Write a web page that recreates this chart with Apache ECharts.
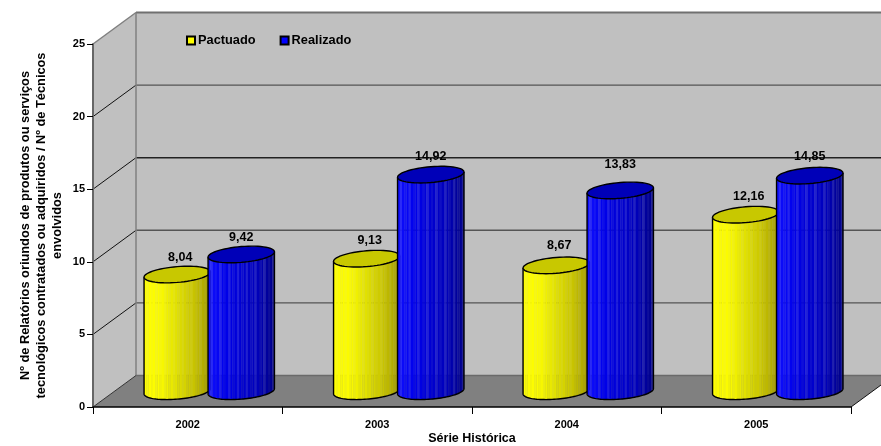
<!DOCTYPE html>
<html><head><meta charset="utf-8">
<style>html,body{margin:0;padding:0;background:#fff}#c{width:881px;height:446px}</style>
<script src="https://cdn.jsdelivr.net/npm/echarts@6/dist/echarts.min.js"></script>
</head><body><div id="c"></div>
<script>
const categories = ['2002', '2003', '2004', '2005'];
const pactuado = [8.04, 9.13, 8.67, 12.16];
const realizado = [9.42, 14.92, 13.83, 14.85];
const yTicks = [0, 5, 10, 15, 20, 25];
const yTitle = 'Nº de Relatórios oriundos de produtos ou serviços\ntecnológicos contratados ou adquiridos / Nº de Técnicos\nenvolvidos';
const xTitle = 'Série Histórica';

const FONT = '"Liberation Sans", Arial, sans-serif';
const DEPTH_X = 43, DEPTH_Y = 31.5;
const RX = 33.2, RY = 7.9, TILT = 0.08, STRIPS = 30, PAIR = 32;

function mix(a, b, t) { return a.map((v, i) => Math.round(v + (b[i] - v) * t)); }
function ramp(stops, t) {
  const n = stops.length - 1, k = Math.min(n - 1, Math.floor(t * n));
  return mix(stops[k], stops[k + 1], t * n - k);
}
const YELLOW = { stops: [[255,255,0],[250,250,0],[224,224,0],[200,196,0],[160,152,0]], top: '#c8c800', nudge: [2, 0, -1, 0] };
const BLUE = { stops: [[16,16,255],[0,0,235],[0,0,210],[0,0,185],[0,0,135]], top: '#0000b8', nudge: [2, 0, -7, -1] };

function arc(cx, cy, from, to, n) {
  const pts = [];
  for (let i = 0; i <= n; i++) {
    const a = from + (to - from) * i / n;
    pts.push([cx + RX * Math.cos(a), cy + RY * Math.sin(a) - RX * Math.cos(a) * TILT]);
  }
  return pts;
}
function lowerY(cx, cy, x) {
  const c = Math.max(-1, Math.min(1, (x - cx) / RX));
  return cy + RY * Math.sqrt(1 - c * c) - RX * c * TILT;
}
function upperMid(cx, cy, x) { return cy - (x - cx) * TILT; }

function cylinder(palette, side) {
  return function (params, api) {
    const top = api.coord([api.value(0), api.value(1)]);
    const base = api.coord([api.value(0), 0]);
    const cx = top[0] + DEPTH_X / 2 + side * PAIR;
    const cy = base[1] - DEPTH_Y / 2;
    const ty = top[1] - DEPTH_Y / 2;
    const children = [];
    const w = 2 * RX / STRIPS;
    for (let i = 0; i < STRIPS; i++) {
      const x0 = cx - RX + i * w, x1 = x0 + w;
      const rgb = ramp(palette.stops, (i + 0.5) / STRIPS);
      const c = i % 4 === 1 ? mix(rgb, [255, 255, 255], palette === BLUE ? 0.08 : 0.03) : rgb;
      children.push({
        type: 'polygon',
        shape: { points: [
          [x0, upperMid(cx, ty, x0)], [x1 + 0.3, upperMid(cx, ty, x1)],
          [x1 + 0.3, lowerY(cx, cy, x1)], [x0, lowerY(cx, cy, x0)]
        ] },
        style: { fill: 'rgb(' + c.join(',') + ')', opacity: i % 2 ? 0.93 : 1 }
      });
    }
    const outline = [[cx - RX, ty + RX * TILT]].concat(arc(cx, cy, Math.PI, 0, 50), [[cx + RX, ty - RX * TILT]]);
    children.push({ type: 'polyline', shape: { points: outline }, style: { stroke: '#000', lineWidth: 1.4, fill: null } });
    children.push({
      type: 'polygon', shape: { points: arc(cx, ty, 0, 2 * Math.PI, 60) },
      style: { fill: palette.top, stroke: '#000', lineWidth: 1.4 }
    });
    children.push({
      type: 'text',
      style: {
        x: cx + (side < 0 ? 3 : 0), y: ty - 18.5 + palette.nudge[params.dataIndex], text: api.value(1).toFixed(2).replace('.', ','),
        font: 'bold 12.5px ' + FONT, fill: '#000', align: 'center', verticalAlign: 'middle'
      }
    });
    return { type: 'group', children };
  };
}

function walls(params, api) {
  const cs = params.coordSys;
  const x0 = cs.x, x1 = cs.x + cs.width, yB = cs.y + cs.height, yT = cs.y;
  const dx = DEPTH_X, dy = DEPTH_Y;
  const line = (a, b, c, d, stroke, lw) => ({ type: 'line', shape: { x1: a, y1: b, x2: c, y2: d }, style: { stroke, lineWidth: lw } });
  const items = [
    { type: 'polygon', shape: { points: [[x0, yB], [x0 + dx, yB - dy], [x0 + dx, yT - dy], [x0, yT]] }, style: { fill: '#c0c0c0' } },
    { type: 'polygon', shape: { points: [[x0 + dx, yB - dy], [x1 + dx, yB - dy], [x1 + dx, yT - dy], [x0 + dx, yT - dy]] }, style: { fill: '#c0c0c0' } },
    { type: 'polygon', shape: { points: [[x0, yB], [x1, yB], [x1 + dx, yB - dy], [x0 + dx, yB - dy]] }, style: { fill: '#808080' } }
  ];
  yTicks.forEach(t => {
    const y = api.coord([0, t])[1];
    if (t > 0 && t < 25) {
      items.push(line(x0, y, x0 + dx, y - dy, '#111', 1));
      items.push(line(x0 + dx, y - dy, x1 + dx, y - dy, t === 15 ? '#222' : '#555', 1.4));
    }
  });
  items.push(line(x0, yT, x0 + dx, yT - dy, '#808080', 1.5));
  items.push(line(x0 + dx, yT - dy, x1 + dx, yT - dy, '#707070', 2));
  items.push(line(x0 + dx, yT - dy, x0 + dx, yB - dy, '#808080', 1.5));
  items.push(line(x0 + dx, yB - dy, x1 + dx, yB - dy, '#6a6a6a', 1.5));
  items.push(line(x0, yB, x0 + dx, yB - dy, '#333', 1));
  items.push(line(x1, yB, x1 + dx, yB - dy, '#111', 1));
  return { type: 'group', children: items };
}

const chart = echarts.init(document.getElementById('c'), null, { renderer: 'canvas' });
chart.setOption({
  animation: false,
  backgroundColor: '#fff',
  grid: { left: 93, right: 30, top: 44, bottom: 39, containLabel: false, outerBoundsMode: 'none' },
  legend: {
    left: 181, top: 29, itemWidth: 8, itemHeight: 8, itemGap: 24, icon: 'rect',
    textStyle: { fontFamily: FONT, fontWeight: 'bold', fontSize: 12.8, color: '#000', padding: [0, 0, 0, -2] },
    data: ['Pactuado', 'Realizado']
  },
  xAxis: {
    type: 'category', data: categories, z: 10, boundaryGap: true,
    name: xTitle, nameLocation: 'middle', nameGap: 25, nameMoveOverlap: false,
    nameTextStyle: { fontFamily: FONT, fontWeight: 'bold', fontSize: 12.5, color: '#000' },
    axisLine: { lineStyle: { color: '#000', width: 1.5 } },
    axisTick: { show: true, length: 7, lineStyle: { color: '#000', width: 1 } },
    axisLabel: { fontFamily: FONT, fontWeight: 'bold', fontSize: 11, color: '#000', margin: 12 },
    splitLine: { show: false }
  },
  yAxis: {
    type: 'value', min: 0, max: 25, interval: 5, z: 10,
    name: yTitle, nameLocation: 'middle', nameGap: 28, nameRotate: 90, nameMoveOverlap: false,
    nameTextStyle: { fontFamily: FONT, fontWeight: 'bold', fontSize: 12.8, color: '#000', lineHeight: 16, align: 'center' },
    axisLine: { show: true, lineStyle: { color: '#666', width: 2 } },
    axisTick: { show: true, length: 6, lineStyle: { color: '#000', width: 1 } },
    axisLabel: { fontFamily: FONT, fontWeight: 'bold', fontSize: 11, color: '#000', margin: 8 },
    splitLine: { show: false }
  },
  series: [
    { type: 'custom', name: 'walls', z: 1, silent: true, renderItem: walls, data: [[0, 0]], encode: { x: 0, y: 1 } },
    { type: 'custom', name: 'Pactuado', z: 2, renderItem: cylinder(YELLOW, -1),
      itemStyle: { color: '#ffff00', borderColor: '#000', borderWidth: 1 },
      data: pactuado.map((v, i) => [i, v]), encode: { x: 0, y: 1 } },
    { type: 'custom', name: 'Realizado', z: 3, renderItem: cylinder(BLUE, 1),
      itemStyle: { color: '#0000ff', borderColor: '#000', borderWidth: 1 },
      data: realizado.map((v, i) => [i, v]), encode: { x: 0, y: 1 } }
  ]
});
</script></body></html>
